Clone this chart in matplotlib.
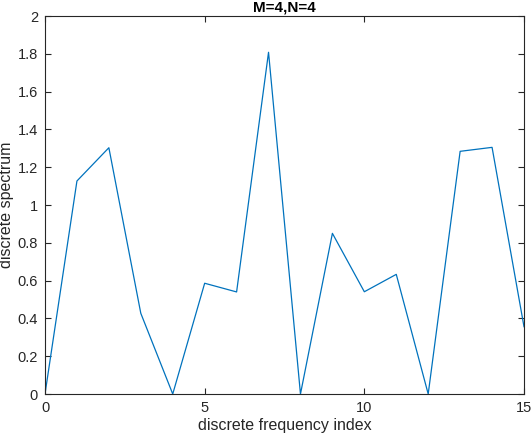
import matplotlib
matplotlib.use("Agg")
import matplotlib.pyplot as plt

plt.rcParams['font.family'] = ['Liberation Sans', 'DejaVu Sans']

index = list(range(16))
spectrum = [0.0, 1.127, 1.303, 0.427, 0.0, 0.586, 0.540, 1.808,
            0.0, 0.850, 0.541, 0.633, 0.0, 1.284, 1.305, 0.356]
xticks = [0, 5, 10, 15]
yticks = [0, 0.2, 0.4, 0.6, 0.8, 1, 1.2, 1.4, 1.6, 1.8, 2]
ytick_labels = ['0', '0.2', '0.4', '0.6', '0.8', '1', '1.2', '1.4', '1.6', '1.8', '2']

fig = plt.figure(figsize=(5.32, 4.40), dpi=100)
ax = fig.add_axes([45/532, 46/440, 479/532, 378/440])
ax.plot(index, spectrum, color='#0072BD', lw=0.9)
ax.set_xlim(0, 15)
ax.set_ylim(0, 2)
ax.set_xticks(xticks)
ax.set_yticks(yticks)
ax.set_yticklabels(ytick_labels)
gray = '#262626'
for s in ax.spines.values():
    s.set_color(gray)
    s.set_linewidth(0.8)
ax.tick_params(direction='in', top=True, right=True, length=4, width=0.8,
               colors=gray, labelsize=10.5, pad=5)
ax.set_xlabel('discrete frequency index', fontsize=11.5, color=gray, labelpad=2)
ax.set_ylabel('discrete spectrum', fontsize=11.5, color=gray, labelpad=3)
ax.set_title('M=4,N=4', fontsize=11, fontweight='bold', color='black', pad=3)
fig.savefig('out.png', dpi=100)
